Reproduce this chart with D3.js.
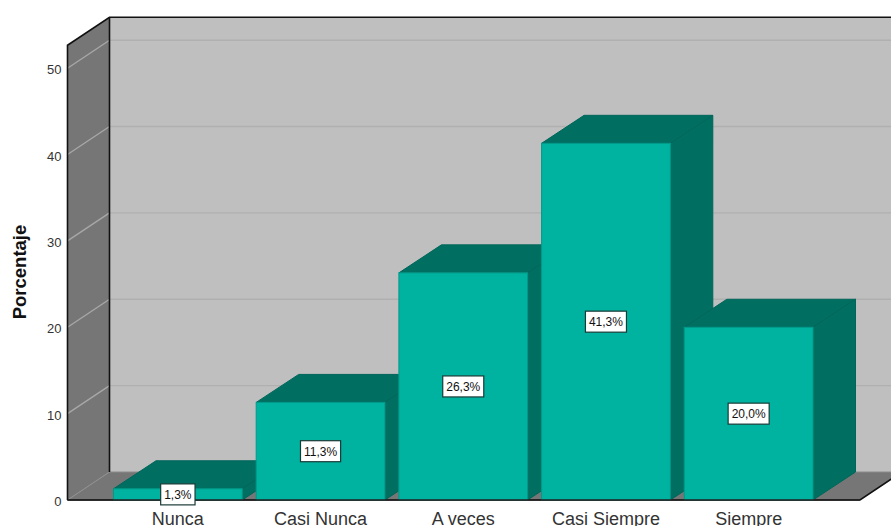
<!DOCTYPE html>
<html><head><meta charset="utf-8">
<script src="https://cdn.jsdelivr.net/npm/d3@7/dist/d3.min.js"></script>
<style>html,body{margin:0;padding:0;background:#fff;overflow:hidden}svg{display:block}text{font-family:"Liberation Sans",Arial,sans-serif}</style>
</head><body><svg id="c" width="891" height="526"></svg>
<script>
const categories = ["Nunca","Casi Nunca","A veces","Casi Siempre","Siempre"];
const values = [1.3,11.3,26.3,41.3,20.0];
const valueLabels = ["1,3%","11,3%","26,3%","41,3%","20,0%"];
const yTicks = [0,10,20,30,40,50];
const axisMax = 52.65;

const svg = d3.select("#c");
const x = d3.scaleBand().domain(categories).range([113.5,813]).paddingInner(0.098).paddingOuter(0);
const y = d3.scaleLinear().domain([0,axisMax]).range([500,45.3]);
const wallD = {dx:42,dy:-28}, barD = {dx:42.5,dy:-28};
const L = 67.5, R = 860;
const y0 = y(0), yT = y(axisMax);
const poly = pts => pts.map(p=>p.join(",")).join(" ");

// walls and floor
svg.append("polygon").attr("points",poly([[L+wallD.dx,yT+wallD.dy],[R+wallD.dx,yT+wallD.dy],[R+wallD.dx,y0+wallD.dy],[L+wallD.dx,y0+wallD.dy]])).attr("fill","#bfbfbf");
svg.append("polygon").attr("points",poly([[L,yT],[L+wallD.dx,yT+wallD.dy],[L+wallD.dx,y0+wallD.dy],[L,y0]])).attr("fill","#767676");
svg.append("polygon").attr("points",poly([[L,y0],[L+wallD.dx,y0+wallD.dy],[R+wallD.dx,y0+wallD.dy],[R,y0]])).attr("fill","#767676");

// grid
const grid = svg.append("g");
yTicks.filter(t=>t>0).forEach(t=>{
  grid.append("line").attr("x1",L+wallD.dx).attr("x2",R+wallD.dx).attr("y1",y(t)+wallD.dy).attr("y2",y(t)+wallD.dy).attr("stroke","#b0b0b0").attr("stroke-width",1.4);
  grid.append("line").attr("x1",L).attr("x2",L+wallD.dx).attr("y1",y(t)).attr("y2",y(t)+wallD.dy).attr("stroke","#a8a8a8").attr("stroke-width",1.3);
});
grid.append("line").attr("x1",L).attr("x2",L+wallD.dx).attr("y1",y0).attr("y2",y0+wallD.dy).attr("stroke","#8f8f8f").attr("stroke-width",1);
grid.append("line").attr("x1",L+wallD.dx).attr("x2",R+wallD.dx).attr("y1",y0+wallD.dy).attr("y2",y0+wallD.dy).attr("stroke","#8a8a8a").attr("stroke-width",1);

// frame
const frame = svg.append("g").attr("fill","none").attr("stroke","#111").attr("stroke-width",1.6);
frame.append("polyline").attr("points",poly([[L,y0],[L,yT],[L+wallD.dx,yT+wallD.dy],[R+wallD.dx,yT+wallD.dy]]));
frame.append("line").attr("x1",L+wallD.dx).attr("x2",L+wallD.dx).attr("y1",yT+wallD.dy).attr("y2",y0+wallD.dy);
frame.append("polyline").attr("points",poly([[L,y0],[R,y0],[R+wallD.dx,y0+wallD.dy]]));

// bars
const bars = svg.append("g").selectAll("g").data(categories.map((c,i)=>({c,v:values[i]}))).join("g");
const edge = "#00665a";
bars.append("polygon").attr("fill","#006f62").attr("stroke",edge).attr("stroke-width",1)
  .attr("points",d=>{const a=x(d.c),b=a+x.bandwidth(),t=y(d.v);return poly([[a,t],[a+barD.dx,t+barD.dy],[b+barD.dx,t+barD.dy],[b,t]]);});
bars.append("polygon").attr("fill","#006f62").attr("stroke",edge).attr("stroke-width",1)
  .attr("points",d=>{const b=x(d.c)+x.bandwidth(),t=y(d.v);return poly([[b,t],[b+barD.dx,t+barD.dy],[b+barD.dx,y0+barD.dy],[b,y0]]);});
bars.append("rect").attr("fill","#00b3a0").attr("stroke","#009a8a").attr("stroke-width",1)
  .attr("x",d=>x(d.c)).attr("width",x.bandwidth()).attr("y",d=>y(d.v)).attr("height",d=>y0-y(d.v));

// base line over bars
svg.append("line").attr("x1",L).attr("x2",R).attr("y1",y0).attr("y2",y0).attr("stroke","#222").attr("stroke-width",1.4);

// axes
const yAxis = svg.append("g").attr("transform",`translate(${L-6},1.5)`).call(d3.axisLeft(y).tickValues(yTicks).tickSize(0).tickPadding(0).tickFormat(d3.format("d")));
yAxis.select(".domain").remove();
yAxis.selectAll("text").attr("font-size",13).attr("fill","#333").style("font-family",'"Liberation Sans",Arial,sans-serif');

const xAxis = svg.append("g").attr("transform",`translate(0,${y0})`).call(d3.axisBottom(x).tickSize(0).tickPadding(0));
xAxis.select(".domain").remove();
xAxis.selectAll("text").attr("font-size",18).attr("fill","#333").attr("dy",0).attr("y",24.5).style("font-family",'"Liberation Sans",Arial,sans-serif');

svg.append("text").attr("transform","translate(25.5,272) rotate(-90)").attr("text-anchor","middle").attr("font-size",18.5).attr("font-weight","bold").attr("fill","#111").text("Porcentaje");

// value labels
const lab = svg.append("g").selectAll("g").data(categories.map((c,i)=>({c,v:values[i],t:valueLabels[i]}))).join("g")
  .attr("transform",d=>`translate(${x(d.c)+x.bandwidth()/2},${(y(d.v)+y0)/2})`);
const box = lab.append("rect").attr("fill","#fff").attr("stroke","#1a3a36").attr("stroke-width",1.2);
const txt = lab.append("text").attr("text-anchor","middle").attr("y",4.5).attr("font-size",12).attr("fill","#111").text(d=>d.t);
txt.each(function(){
  const w=this.getComputedTextLength()+7;
  d3.select(this.parentNode).select("rect").attr("x",-w/2).attr("width",w).attr("y",-10.5).attr("height",21);
});
</script></body></html>
